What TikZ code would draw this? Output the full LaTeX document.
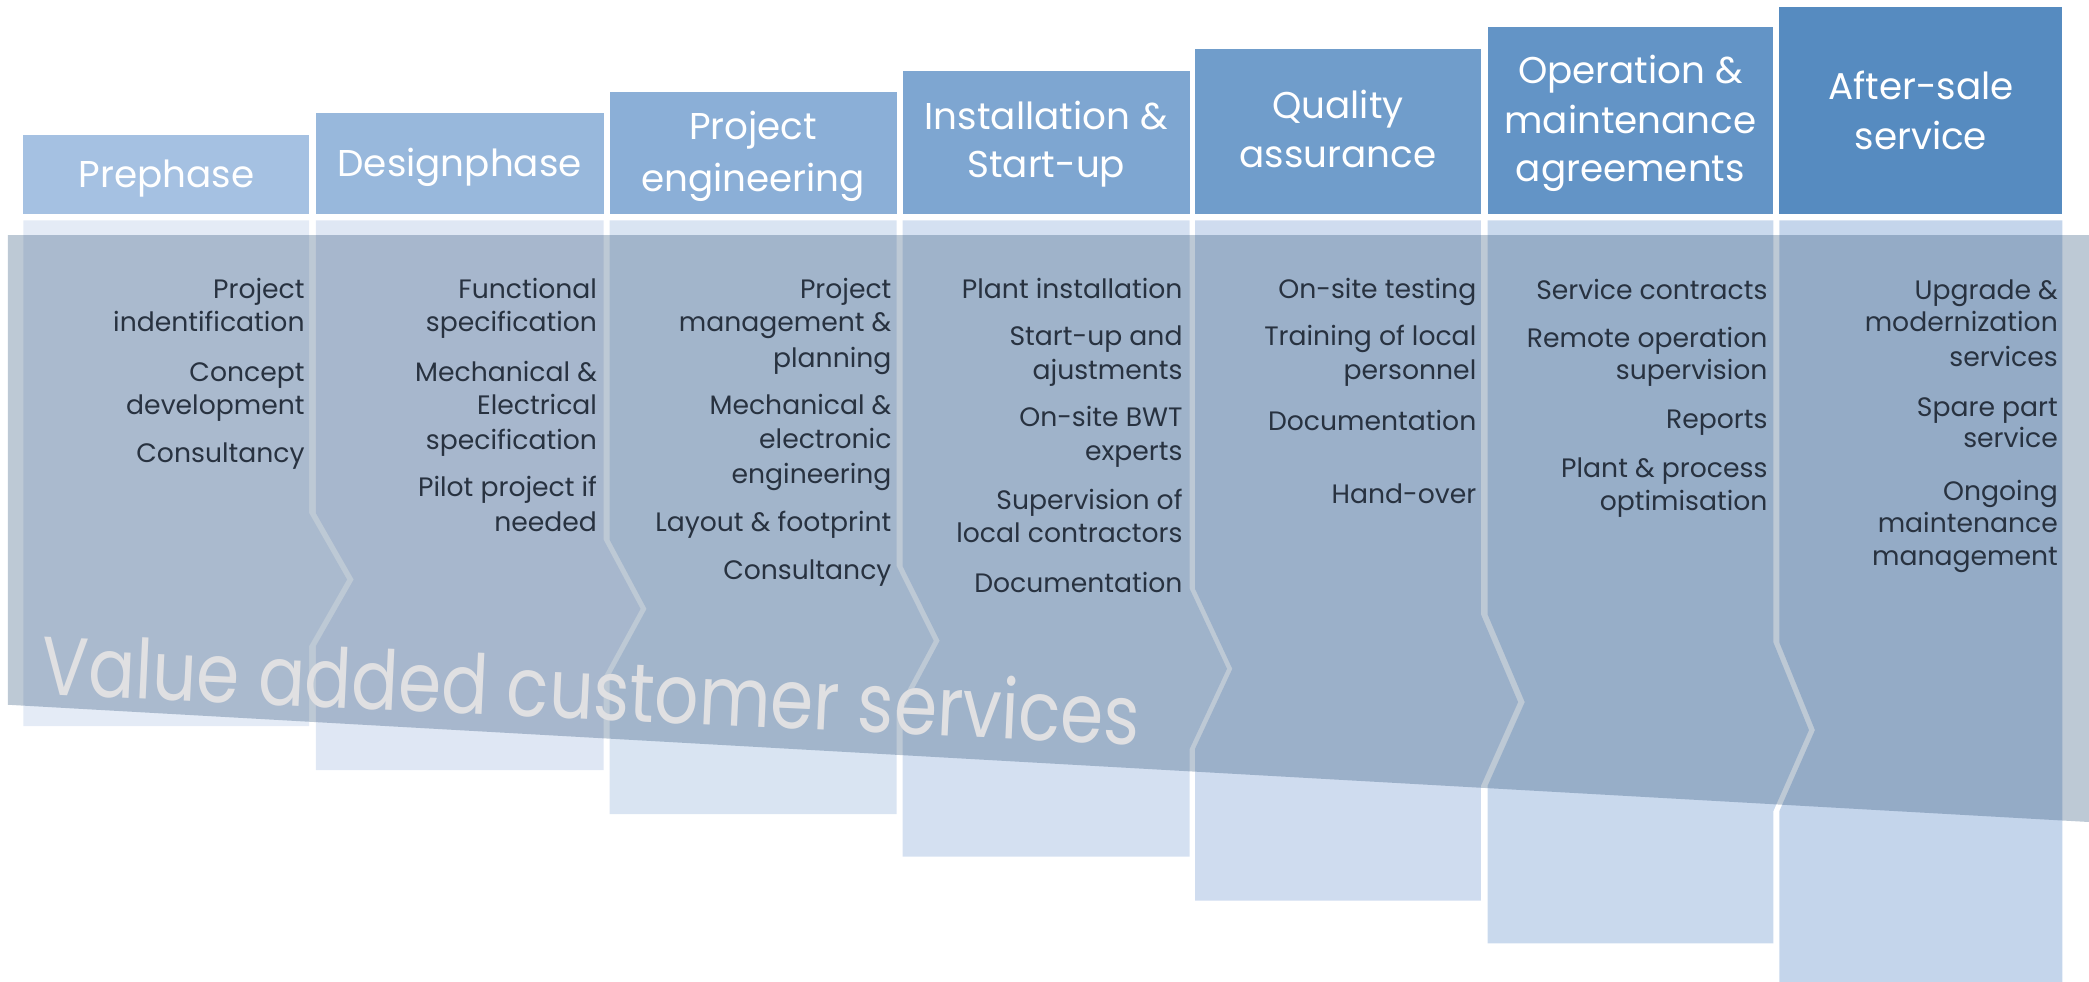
\documentclass[tikz,border=0pt]{standalone}
\usepackage{graphicx}
\usepackage{fontspec}
\setmainfont{Poppins}
\definecolor{hA}{RGB}{165,193,226}
\definecolor{hB}{RGB}{152,184,220}
\definecolor{hC}{RGB}{139,175,215}
\definecolor{hD}{RGB}{126,166,209}
\definecolor{hE}{RGB}{112,157,203}
\definecolor{hF}{RGB}{99,148,198}
\definecolor{hG}{RGB}{86,139,192}
\definecolor{bA}{RGB}{228,235,246}
\definecolor{bB}{RGB}{223,231,244}
\definecolor{bC}{RGB}{217,228,242}
\definecolor{bD}{RGB}{212,224,241}
\definecolor{bE}{RGB}{207,220,239}
\definecolor{bF}{RGB}{201,217,237}
\definecolor{bG}{RGB}{196,213,235}
\definecolor{bandc}{RGB}{38,75,115}
\definecolor{txtc}{RGB}{40,50,64}
\definecolor{bigc}{RGB}{224,224,226}
\begin{document}
\begin{tikzpicture}[x=0.5pt,y=-0.5pt,
  hdrtxt/.style={text=white,font=\fontsize{14}{16}\selectfont,anchor=base,inner sep=0pt},
  itm/.style={text=txtc,font=\fontsize{10}{12}\selectfont,anchor=base east,inner sep=0pt},
  bigtxt/.style={text=bigc,font=\fontsize{31}{31}\selectfont,anchor=base west,inner sep=0pt,rotate=-2.65},
  band/.style={fill=bandc,fill opacity=0.3}
]
\useasboundingbox (0,0) rectangle (1568,737);
% header boxes
\fill[hA] (17.5,101) rectangle (232,160.5);
\fill[hB] (237,85) rectangle (453,160.5);
\fill[hC] (457.5,69) rectangle (673,160.5);
\fill[hD] (677.5,53) rectangle (893,160.5);
\fill[hE] (897,37) rectangle (1111.5,160.5);
\fill[hF] (1116.5,20) rectangle (1331,160.5);
\fill[hG] (1335.5,5) rectangle (1548,160.5);
% body shapes
\fill[bA] (17.5,165.5) -- (232,165.5) -- (232,385) -- (260.5,435) -- (232,485) -- (232,545) -- (17.5,545) -- cycle;
\fill[bB] (237,165.5) -- (453,165.5) -- (453,405) -- (480.8,457) -- (453,508) -- (453,578) -- (237,578) -- (237,485) -- (265.5,435) -- (237,385) -- cycle;
\fill[bC] (457.5,165.5) -- (673,165.5) -- (673,425) -- (700.8,481) -- (673,533) -- (673,611) -- (457.5,611) -- (457.5,508) -- (485.3,457) -- (457.5,405) -- cycle;
\fill[bD] (677.5,165.5) -- (893,165.5) -- (893,442) -- (921,502) -- (893,562) -- (893,643) -- (677.5,643) -- (677.5,533) -- (705.3,481) -- (677.5,425) -- cycle;
\fill[bE] (897,165.5) -- (1111.5,165.5) -- (1111.5,461) -- (1139.5,527) -- (1111.5,590) -- (1111.5,676) -- (897,676) -- (897,562) -- (925,502) -- (897,442) -- cycle;
\fill[bF] (1116.5,165.5) -- (1331,165.5) -- (1331,482) -- (1357.8,548) -- (1331,609) -- (1331,708) -- (1116.5,708) -- (1116.5,590) -- (1144.5,527) -- (1116.5,461) -- cycle;
\fill[bG] (1335.5,165.5) -- (1548,165.5) -- (1548,740) -- (1335.5,740) -- (1335.5,609) -- (1362.3,548) -- (1335.5,482) -- cycle;
% translucent band
\fill[band] (6,176.5) -- (1568,176.5) -- (1568,617) -- (6,529) -- cycle;
\node[bigtxt] (vacs) at (30,521) {\scalebox{0.84}[1]{Value added customer services}};
% header texts
\node[hdrtxt] (t1) at (125,141) {Prephase};
\node[hdrtxt] (t2) at (345,132.5) {Designphase};
\node[hdrtxt] (t3a) at (565.3,105) {Project};
\node[hdrtxt] (t3b) at (565.3,143.5) {engineering};
\node[hdrtxt] (t4a) at (785.3,97) {Installation \&};
\node[hdrtxt] (t4b) at (785.3,133.5) {Start-up};
\node[hdrtxt] (t5a) at (1004.3,89) {Quality};
\node[hdrtxt] (t5b) at (1004.3,126) {assurance};
\node[hdrtxt] (t6a) at (1223.8,62.5) {Operation \&};
\node[hdrtxt] (t6b) at (1223.8,100) {maintenance};
\node[hdrtxt] (t6c) at (1223.8,136.5) {agreements};
\node[hdrtxt] (t7a) at (1441.8,75) {After-sale};
\node[hdrtxt] (t7b) at (1441.8,112) {service};
% column 1
\node[itm] (a1) at (229,224) {Project};
\node[itm] (a2) at (229,249) {indentification};
\node[itm] (a3) at (229,286) {Concept};
\node[itm] (a4) at (229,311) {development};
\node[itm] (a5) at (229,347) {Consultancy};
% column 2
\node[itm] (b1) at (448.5,224) {Functional};
\node[itm] (b2) at (448.5,249) {specification};
\node[itm] (b3) at (448.5,286) {Mechanical \&};
\node[itm] (b4) at (448.5,311) {Electrical};
\node[itm] (b5) at (448.5,337.5) {specification};
\node[itm] (b6) at (448.5,373) {Pilot project if};
\node[itm] (b7) at (448.5,399) {needed};
% column 3
\node[itm] (c1) at (669.5,224) {Project};
\node[itm] (c2) at (669.5,249) {management \&};
\node[itm] (c3) at (669.5,275.5) {planning};
\node[itm] (c4) at (669.5,311) {Mechanical \&};
\node[itm] (c5) at (669.5,337) {electronic};
\node[itm] (c6) at (669.5,363) {engineering};
\node[itm] (c7) at (669.5,399) {Layout \& footprint};
\node[itm] (c8) at (669.5,435) {Consultancy};
% column 4
\node[itm] (d1) at (888,224) {Plant installation};
\node[itm] (d2) at (888,259.5) {Start-up and};
\node[itm] (d3) at (888,284.5) {ajustments};
\node[itm] (d4) at (888,320) {On-site BWT};
\node[itm] (d5) at (888,345.5) {experts};
\node[itm] (d6) at (888,382.5) {Supervision of};
\node[itm] (d7) at (888,407.5) {local contractors};
\node[itm] (d8) at (888,444.5) {Documentation};
% column 5
\node[itm] (e1) at (1108.5,224) {On-site testing};
\node[itm] (e2) at (1108.5,259.5) {Training of local};
\node[itm] (e3) at (1108.5,284.5) {personnel};
\node[itm] (e4) at (1108.5,323) {Documentation};
\node[itm] (e5) at (1108.5,378) {Hand-over};
% column 6
\node[itm] (f1) at (1327,225) {Service contracts};
\node[itm] (f2) at (1327,260.5) {Remote operation};
\node[itm] (f3) at (1327,284.5) {supervision};
\node[itm] (f4) at (1327,322) {Reports};
\node[itm] (f5) at (1327,358.5) {Plant \& process};
\node[itm] (f6) at (1327,383) {optimisation};
% column 7
\node[itm] (g1) at (1545,225) {Upgrade \&};
\node[itm] (g2) at (1545,249) {modernization};
\node[itm] (g3) at (1545,275) {services};
\node[itm] (g4) at (1545,312.5) {Spare part};
\node[itm] (g5) at (1545,336) {service};
\node[itm] (g6) at (1545,376) {Ongoing};
\node[itm] (g7) at (1545,400) {maintenance};
\node[itm] (g8) at (1545,424.5) {management};
\end{tikzpicture}
\end{document}
